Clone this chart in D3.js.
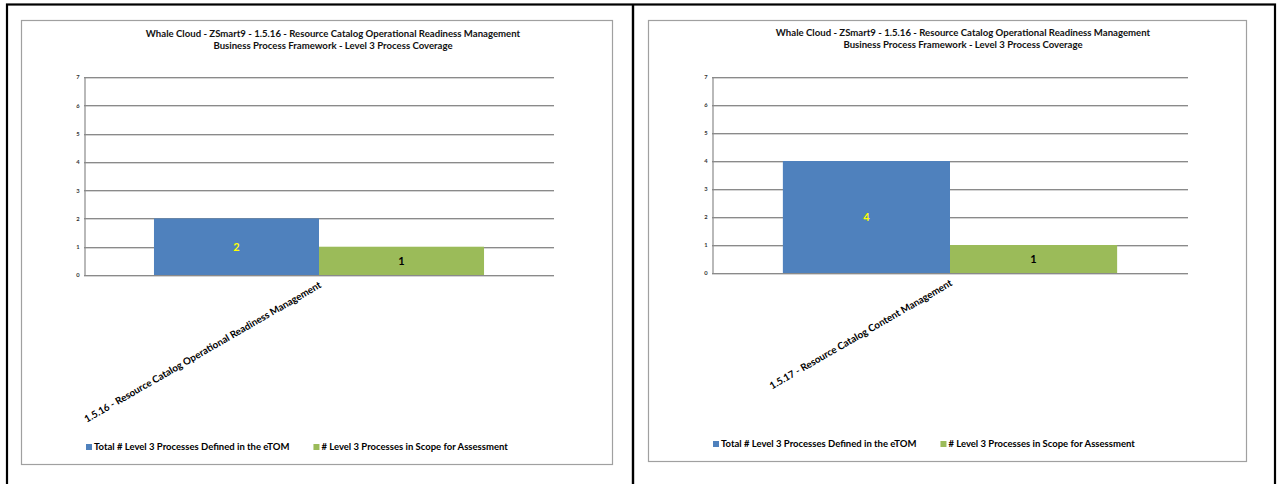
<!DOCTYPE html>
<html>
<head>
<meta charset="utf-8">
<script src="https://cdn.jsdelivr.net/npm/d3@7"></script>
<style>
  html, body { margin: 0; padding: 0; background: #ffffff; }
  svg { display: block; }
  text { font-family: Lato, "Open Sans", "Liberation Sans", sans-serif; font-weight: bold; }
</style>
</head>
<body>
<svg id="page" width="1277" height="484"></svg>
<script>
// Chart data
const titleLine1 = "Whale Cloud - ZSmart9 - 1.5.16 - Resource Catalog Operational Readiness Management";
const titleLine2 = "Business Process Framework - Level 3 Process Coverage";
const categories = [
  "1.5.16 - Resource Catalog Operational Readiness Management",
  "1.5.17 - Resource Catalog Content Management"
];
const seriesNames = [
  "Total # Level 3 Processes Defined in the eTOM",
  "# Level 3 Processes in Scope for Assessment"
];
const totalDefined = [2, 4];
const inScope = [1, 1];
const yTicks = [0, 1, 2, 3, 4, 5, 6, 7];

const seriesColors = ["#4f81bd", "#9bbb59"];
const labelColors = ["#ffff00", "#000000"];

const svg = d3.select("#page");

// Page frame: black rules around the two panels
const frame = svg.append("g");
frame.append("rect").attr("x", 7).attr("y", 4.5).attr("width", 1268).attr("height", 500)
  .attr("fill", "none").attr("stroke", "#000").attr("stroke-width", 2.2);
frame.append("line").attr("x1", 633).attr("x2", 633).attr("y1", 4).attr("y2", 484)
  .attr("stroke", "#000").attr("stroke-width", 2.4);

const panels = [
  { box: { x0: 21, y0: 20, x1: 612, y1: 464 }, plot: { left: 84, right: 554, top: 77, bottom: 275 }, titleX: 333, titleY: 37, legendY: 447 },
  { box: { x0: 648, y0: 20, x1: 1246, y1: 461 }, plot: { left: 712, right: 1188, top: 77, bottom: 273 }, titleX: 963, titleY: 36, legendY: 444 }
];

panels.forEach((p, i) => {
  const g = svg.append("g");

  // chart area border
  g.append("rect")
    .attr("x", p.box.x0 + 0.5).attr("y", p.box.y0 + 0.5)
    .attr("width", p.box.x1 - p.box.x0).attr("height", p.box.y1 - p.box.y0)
    .attr("fill", "#fff").attr("stroke", "#a0a0a0").attr("stroke-width", 1.2);

  // title
  g.append("text").attr("x", p.titleX).attr("y", p.titleY)
    .attr("text-anchor", "middle").attr("font-size", 9.6).attr("fill", "#111")
    .text(titleLine1);
  g.append("text").attr("x", p.titleX).attr("y", p.titleY + 12)
    .attr("text-anchor", "middle").attr("font-size", 9.6).attr("fill", "#111")
    .text(titleLine2);

  const y = d3.scaleLinear().domain([0, 7]).range([p.plot.bottom, p.plot.top]);
  const x = d3.scaleBand().domain([categories[i]])
    .range([p.plot.left, p.plot.right]).paddingInner(0).paddingOuter(0.212);
  const xs = d3.scaleBand().domain([0, 1]).range([0, x.bandwidth()]).padding(0);

  // gridlines with light shadow line
  const grid = g.append("g");
  grid.selectAll("line.shadow").data(yTicks).join("line")
    .attr("class", "shadow")
    .attr("x1", p.plot.left).attr("x2", p.plot.right)
    .attr("y1", d => Math.round(y(d)) + 1.5).attr("y2", d => Math.round(y(d)) + 1.5)
    .attr("stroke", "#d4d4d4").attr("stroke-width", 1);
  grid.selectAll("line.main").data(yTicks).join("line")
    .attr("class", "main")
    .attr("x1", p.plot.left).attr("x2", p.plot.right)
    .attr("y1", d => Math.round(y(d)) + 0.5).attr("y2", d => Math.round(y(d)) + 0.5)
    .attr("stroke", "#8a8a8a").attr("stroke-width", 1.1);

  // y axis
  const yAxis = d3.axisLeft(y).tickValues(yTicks).tickSize(0).tickPadding(5).tickFormat(d3.format("d"));
  const ya = g.append("g").attr("transform", `translate(${p.plot.left + 0.5},0)`).call(yAxis);
  ya.select(".domain").attr("stroke", "#8a8a8a").attr("stroke-width", 1.2);
  ya.selectAll("text").attr("font-size", 5.8).attr("fill", "#333")
    .attr("font-family", "Lato, sans-serif").attr("font-weight", "bold");

  // bars
  const vals = [totalDefined[i], inScope[i]];
  const bars = g.append("g");
  bars.selectAll("rect").data(vals).join("rect")
    .attr("x", (d, k) => x(categories[i]) + xs(k))
    .attr("width", xs.bandwidth())
    .attr("y", d => y(d))
    .attr("height", d => y(0) - y(d))
    .attr("fill", (d, k) => seriesColors[k]);

  // value labels centred in bars
  bars.selectAll("text").data(vals).join("text")
    .attr("x", (d, k) => x(categories[i]) + xs(k) + xs.bandwidth() / 2)
    .attr("y", d => (y(d) + y(0)) / 2 + 4)
    .attr("text-anchor", "middle").attr("font-size", 11).attr("font-weight", 900)
    .attr("fill", (d, k) => labelColors[k])
    .text(d => d);

  // x axis line redrawn over bar bottoms
  g.append("line").attr("x1", p.plot.left).attr("x2", p.plot.right)
    .attr("y1", y(0) + 0.5).attr("y2", y(0) + 0.5)
    .attr("stroke", "#8a8a8a").attr("stroke-width", 1.2);

  // rotated category label
  const cx = x(categories[i]) + x.bandwidth() / 2;
  g.append("text")
    .attr("transform", `translate(${cx + 3},${p.plot.bottom + 12}) rotate(-30)`)
    .attr("text-anchor", "end").attr("font-size", 9.8).attr("fill", "#000")
    .text(categories[i]);

  // legend
  const lg = g.append("g").attr("transform", `translate(${p.box.x0 + 65},${p.legendY})`);
  let lx = 0;
  seriesNames.forEach((name, k) => {
    lg.append("rect").attr("x", lx).attr("y", -3).attr("width", 6).attr("height", 6)
      .attr("fill", seriesColors[k]);
    const t = lg.append("text").attr("x", lx + 8).attr("y", 3.3).attr("font-size", 9.5)
      .attr("fill", "#000").text(name);
    lx += 8 + t.node().getComputedTextLength() + 24;
  });
});
</script>
</body>
</html>
